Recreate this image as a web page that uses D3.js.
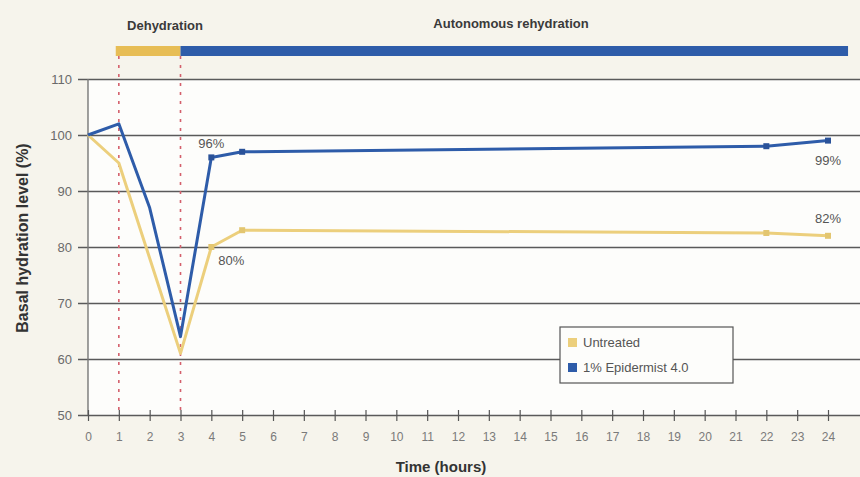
<!DOCTYPE html>
<html>
<head>
<meta charset="utf-8">
<script src="https://cdn.jsdelivr.net/npm/d3@7/dist/d3.min.js"></script>
<style>
  html, body { margin: 0; padding: 0; background: #f6f4ec; }
  svg { display: block; font-family: "Liberation Sans", Arial, sans-serif; }
</style>
</head>
<body>
<svg id="chart" width="860" height="477"></svg>
<script>
// Time points (hours) and basal hydration level (%) for each group
const epidermistHours = [0, 1, 2, 3, 4, 5, 22, 24];
const epidermistValues = [100, 102, 87, 64, 96, 97, 98, 99];
const untreatedHours = [0, 1, 3, 4, 5, 22, 24];
const untreatedValues = [100, 95, 61, 80, 83, 82.5, 82];

const xTicks = d3.range(0, 25);
const yTicks = [50, 60, 70, 80, 90, 100, 110];

// Protocol phases shown above the plot
const phaseNames = ["Dehydration", "Autonomous rehydration"];
const phaseStart = [0.9, 3];
const phaseEnd = [3, 24.65];

// Value call-outs
const calloutText = ["96%", "80%", "82%", "99%"];
const calloutHour = [4, 4, 24, 24];
const calloutValue = [96, 80, 82, 99];

const colors = { untreated: "#eccf7c", epidermist: "#2e5ca9", grid: "#5a5a5a", text: "#6a6a6a", phase: "#e7bd55" };

const svg = d3.select("#chart");
const x = d3.scaleLinear().domain([0, 24]).range([88, 828]);
const y = d3.scaleLinear().domain([50, 110]).range([415, 79]);

// Plot area
svg.append("rect").attr("x", x(0)).attr("y", y(110)).attr("width", 860 - x(0)).attr("height", y(50) - y(110)).attr("fill", "#fdfdfb");

// Horizontal gridlines with left ticks
const yAxis = d3.axisLeft(y).tickValues(yTicks).tickSize(-(860 - x(0))).tickSizeOuter(0).tickPadding(16);
const gy = svg.append("g").attr("transform", `translate(${x(0)},0)`).call(yAxis);
gy.select(".domain").remove();
gy.selectAll(".tick line").attr("x1", -10).attr("stroke", colors.grid).attr("stroke-width", 1.4);
gy.selectAll(".tick text").attr("fill", colors.text).attr("font-size", 13).attr("font-family", "Liberation Sans, Arial, sans-serif");

// Vertical axis line
svg.append("line").attr("x1", x(0)).attr("x2", x(0)).attr("y1", y(110)).attr("y2", y(50)).attr("stroke", "#777").attr("stroke-width", 1.4);

// Time axis
const xAxis = d3.axisBottom(x).tickValues(xTicks).tickSize(6).tickSizeOuter(0).tickPadding(11);
const gx = svg.append("g").attr("transform", `translate(0,${y(50)})`).call(xAxis);
gx.select(".domain").remove();
gx.selectAll(".tick line").attr("y1", -5).attr("stroke", "#555").attr("stroke-width", 1.2);
gx.selectAll(".tick text").attr("fill", "#7a7a7a").attr("font-size", 12).attr("font-family", "Liberation Sans, Arial, sans-serif");

// Phase bars and labels
const phaseColors = [colors.phase, colors.epidermist];
phaseNames.forEach((name, i) => {
  svg.append("rect")
    .attr("x", x(phaseStart[i])).attr("y", 46)
    .attr("width", x(phaseEnd[i]) - x(phaseStart[i])).attr("height", 10)
    .attr("fill", phaseColors[i]);
});
svg.append("text").attr("x", 165).attr("y", 30).attr("text-anchor", "middle")
  .attr("font-size", 13).attr("font-weight", "bold").attr("fill", "#3a3a3a").text(phaseNames[0]);
svg.append("text").attr("x", 511).attr("y", 28).attr("text-anchor", "middle")
  .attr("font-size", 13).attr("font-weight", "bold").attr("fill", "#3a3a3a").text(phaseNames[1]);

// Phase boundaries
[1, 3].forEach(h => {
  svg.append("line").attr("x1", x(h)).attr("x2", x(h)).attr("y1", 56).attr("y2", y(50))
    .attr("stroke", "#d4606c").attr("stroke-width", 1.6).attr("stroke-dasharray", "3,6");
});

// Series lines
const line = d3.line().x(d => x(d[0])).y(d => y(d[1]));
const uData = untreatedHours.map((h, i) => [h, untreatedValues[i]]);
const eData = epidermistHours.map((h, i) => [h, epidermistValues[i]]);

svg.append("path").datum(uData).attr("d", line).attr("fill", "none")
  .attr("stroke", colors.untreated).attr("stroke-width", 3).attr("stroke-linejoin", "round");
svg.append("path").datum(eData).attr("d", line).attr("fill", "none")
  .attr("stroke", colors.epidermist).attr("stroke-width", 3).attr("stroke-linejoin", "round");

svg.selectAll(".mu").data(uData.filter(d => d[0] >= 4)).join("rect")
  .attr("x", d => x(d[0]) - 3).attr("y", d => y(d[1]) - 3).attr("width", 6).attr("height", 6)
  .attr("fill", "#e3c670");
svg.selectAll(".me").data(eData.filter(d => d[0] >= 4)).join("rect")
  .attr("x", d => x(d[0]) - 3).attr("y", d => y(d[1]) - 3).attr("width", 6).attr("height", 6)
  .attr("fill", "#2a5299");

// Call-outs
const calloutDx = [0, 7, 0, 0];
const calloutDy = [-9, 18, -13, 24];
const calloutAnchor = ["middle", "start", "middle", "middle"];
calloutText.forEach((t, i) => {
  svg.append("text")
    .attr("x", x(calloutHour[i]) + calloutDx[i]).attr("y", y(calloutValue[i]) + calloutDy[i])
    .attr("text-anchor", calloutAnchor[i]).attr("font-size", 13).attr("fill", "#555").text(t);
});

// Legend
const lg = svg.append("g").attr("transform", "translate(560,327)");
lg.append("rect").attr("width", 173).attr("height", 56).attr("fill", "#fdfdfb").attr("stroke", "#555").attr("stroke-width", 1.2);
const legendNames = ["Untreated", "1% Epidermist 4.0"];
const legendColors = [colors.untreated, colors.epidermist];
legendNames.forEach((n, i) => {
  lg.append("rect").attr("x", 8).attr("y", 11 + i * 25).attr("width", 9).attr("height", 9).attr("fill", legendColors[i]);
  lg.append("text").attr("x", 23).attr("y", 20 + i * 25).attr("font-size", 13).attr("fill", "#555").text(n);
});

// Axis titles
svg.append("text").attr("transform", "translate(28,238) rotate(-90)").attr("text-anchor", "middle")
  .attr("font-size", 16).attr("font-weight", "bold").attr("fill", "#333").text("Basal hydration level (%)");
svg.append("text").attr("x", 441).attr("y", 472).attr("text-anchor", "middle")
  .attr("font-size", 15).attr("font-weight", "bold").attr("fill", "#333").text("Time (hours)");
</script>
</body>
</html>
